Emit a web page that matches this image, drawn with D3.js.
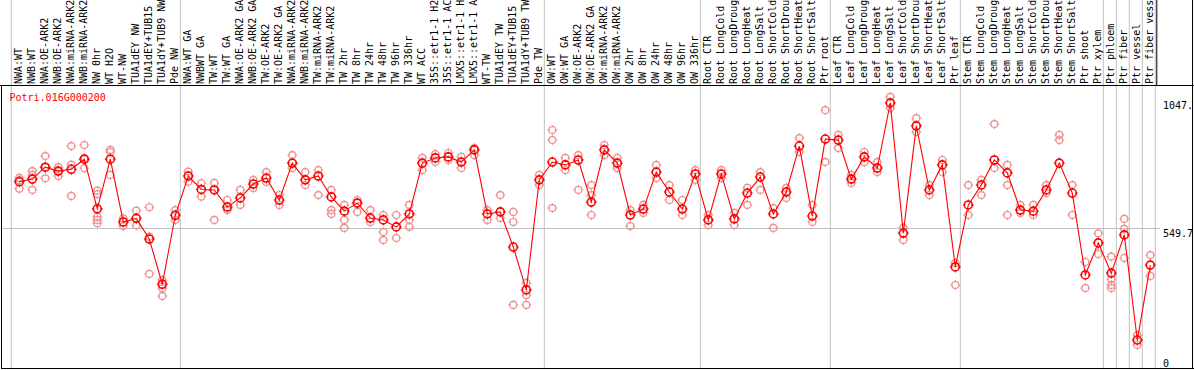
<!DOCTYPE html>
<html>
<head>
<meta charset="utf-8">
<script src="https://cdn.jsdelivr.net/npm/d3@7"></script>
<style>
  body { margin: 0; background: #fff; }
  svg text { font-family: "DejaVu Sans Mono", monospace; font-size: 10px; }
</style>
</head>
<body>
<div id="chart"></div>
<script>
// sample labels, as shown (clipped at the top of the picture)
const categories = [
  "NWA:WT", "NWB:WT", "NWA:OE-ARK2", "NWB:OE-ARK2", "NWA:miRNA-ARK2", "NWB:miRNA-ARK2",
  "NW 0hr", "WT H2O", "WT-NW", "TUA1dEY NW", "TUA1dEY+TUB15", "TUA1dY+TUB9 NW", "Pde NW",
  "NWA:WT GA", "NWBWT GA", "TW:WT", "TW:WT GA", "NWA:OE-ARK2 GA", "NWB:OE-ARK2 GA",
  "TW:OE-ARK2", "TW:OE-ARK2 GA", "NWA:miRNA-ARK2", "NWB:miRNA-ARK2", "TW:miRNA-ARK2",
  "TW:miRNA-ARK2", "TW 2hr", "TW 8hr", "TW 24hr", "TW 48hr", "TW 96hr", "TW 336hr",
  "WT ACC", "35S::etr1-1 H2", "35S::etr1-1 AC", "LMX5::etr1-1 H", "LMX5::etr1-1 A",
  "WT-TW", "TUA1dEY TW", "TUA1dEY+TUB15", "TUA1dY+TUB9 TW", "Pde TW",
  "OW:WT", "OW:WT GA", "OW:OE-ARK2", "OW:OE-ARK2 GA", "OW:miRNA-ARK2", "OW:miRNA-ARK2",
  "OW 2hr", "OW 8hr", "OW 24hr", "OW 48hr", "OW 96hr", "OW 336hr",
  "Root CTR", "Root LongCold", "Root LongDroug", "Root LongHeat", "Root LongSalt",
  "Root ShortCold", "Root ShortDrou", "Root ShortHeat", "Root ShortSalt", "Ptr root",
  "Leaf CTR", "Leaf LongCold", "Leaf LongDroug", "Leaf LongHeat", "Leaf LongSalt",
  "Leaf ShortCold", "Leaf ShortDrou", "Leaf ShortHeat", "Leaf ShortSalt", "Ptr leaf",
  "Stem CTR", "Stem LongCold", "Stem LongDroug", "Stem LongHeat", "Stem LongSalt",
  "Stem ShortCold", "Stem ShortDrou", "Stem ShortHeat", "Stem ShortSalt",
  "Ptr shoot", "Ptr xylem", "Ptr phloem", "Ptr fiber", "Ptr vessel", "Ptr fiber vess"
];

// mean expression per sample
const means = [
  729, 739, 785, 770, 777, 816, 624, 816, 573, 587, 507, 332, 599,
  751, 699, 697, 631, 666, 720, 743, 658, 801, 736, 751, 670, 615, 646, 588, 581, 554, 604,
  801, 821, 825, 805, 852, 604, 612, 476, 310, 736,
  805, 794, 813, 650, 852, 801, 600, 623, 766, 689, 623, 759,
  581, 759, 585, 685, 747, 604, 689, 867, 596, 894,
  890, 739, 825, 782, 1034, 530, 945, 697, 794, 399,
  639, 716, 813, 763, 619, 615, 697, 801, 685, 368, 492,
  375, 523, 116, 406
];

// individual replicates per sample
const replicates = [
  [744, 702, 735], [770, 697, 755], [828, 742, 785], [785, 751, 770], [867, 795, 674],
  [871, 781, 820], [694, 681, 593, 581, 568], [852, 844, 755], [587, 557], [617, 560],
  [630, 372, 516], [348, 316, 286], [619, 581],
  [768, 729], [723, 671], [724, 581, 697], [658, 619], [697, 639], [736, 705], [766, 728],
  [677, 639], [832, 782], [766, 716], [774, 677], [697, 619, 604], [639, 581, 550],
  [658, 612], [619, 573], [600, 534, 503], [600, 511], [639, 581, 554],
  [821, 774], [836, 805], [840, 813], [825, 782], [859, 832], [619, 581], [677, 588],
  [612, 573, 252], [337, 290, 252], [755, 716],
  [929, 890, 627], [821, 774], [832, 697], [716, 677, 600], [871, 832], [821, 782],
  [619, 557], [639, 608], [794, 743], [716, 658], [658, 600], [774, 736],
  [600, 561], [774, 743], [608, 561], [705, 639], [766, 697], [627, 550], [705, 666],
  [898, 844], [639, 573], [1006, 805],
  [910, 859], [755, 724], [844, 805], [805, 766], [1057, 1014], [550, 503], [975, 921],
  [716, 677], [813, 766], [414, 329],
  [716, 600], [736, 677], [952, 782], [794, 716, 600], [639, 608], [639, 600], [716, 685],
  [910, 890], [716, 600], [418, 317], [529, 449],
  [439, 352, 329, 317], [585, 546, 434], [135, 97], [445, 364]
];

// last sample index of each group (gray separators drawn after them)
const groupEnds = [-1, 12, 40, 52, 62, 72, 83, 84, 85, 86, 87];

const yTicks = [0, 549.7, 1047];
const yTickLabels = ["0", "549.7", "1047."];
const geneName = "Potri.016G000200";

const W = 1194, H = 370;
const plotTop = 85.5, plotBottom = 368.5;

const x = d3.scaleLinear().domain([0, categories.length - 1]).range([19.3, 1150.3]);
const y = d3.scaleLinear().domain([0, 1099.4]).range([370, 86]);

const svg = d3.select("#chart").append("svg")
    .attr("width", W)
    .attr("height", H);

// group separators
svg.append("g")
    .selectAll("line")
    .data(groupEnds)
    .enter().append("line")
    .attr("x1", d => x(d) + 5)
    .attr("x2", d => x(d) + 5)
    .attr("y1", 0)
    .attr("y2", plotBottom)
    .attr("stroke", "#c0c0c0")
    .attr("stroke-width", 1);

// mid gridline
svg.append("line")
    .attr("x1", 1).attr("x2", 1160)
    .attr("y1", Math.round(y(549.7)) + 0.5)
    .attr("y2", Math.round(y(549.7)) + 0.5)
    .attr("stroke", "#c0c0c0");

// frame
svg.append("line").attr("x1", 0).attr("x2", W).attr("y1", plotTop).attr("y2", plotTop).attr("stroke", "#000");
svg.append("line").attr("x1", 1.5).attr("x2", 1.5).attr("y1", plotTop).attr("y2", plotBottom).attr("stroke", "#000");
svg.append("line").attr("x1", 1).attr("x2", W).attr("y1", plotBottom).attr("y2", plotBottom).attr("stroke", "#000");
svg.append("line").attr("x1", W - 1.5).attr("x2", W - 1.5).attr("y1", 0).attr("y2", plotBottom).attr("stroke", "#000");
svg.append("line").attr("x1", x(87) + 6.5).attr("x2", x(87) + 6.5).attr("y1", 0).attr("y2", plotTop).attr("stroke", "#000");

// sample labels
svg.append("g")
    .selectAll("text")
    .data(categories)
    .enter().append("text")
    .attr("transform", (d, i) => "translate(" + (x(i) + 3) + "," + 84 + ") rotate(-90)")
    .attr("fill", "#000")
    .text(d => d);

// title
svg.append("text")
    .attr("x", 9.5)
    .attr("y", 100.5)
    .attr("fill", "#ff0000")
    .text(geneName);

// right axis labels
svg.append("g")
    .selectAll("text")
    .data(yTicks)
    .enter().append("text")
    .attr("x", 1163)
    .attr("y", (d, i) => Math.min(y(d) + 9, 367))
    .attr("fill", "#000")
    .text((d, i) => yTickLabels[i]);

function marker(g, cx, cy, r, color, sw) {
    g.append("circle")
        .attr("cx", cx).attr("cy", cy).attr("r", r)
        .attr("fill", "none")
        .attr("stroke", color)
        .attr("stroke-width", sw);
    [[0, -1], [0, 1], [-1, 0], [1, 0]].forEach(function(v) {
        g.append("line")
            .attr("x1", cx + v[0] * (r - 1)).attr("y1", cy + v[1] * (r - 1))
            .attr("x2", cx + v[0] * (r + 1.5)).attr("y2", cy + v[1] * (r + 1.5))
            .attr("stroke", color)
            .attr("stroke-width", 1);
    });
}

// replicates
const repLayer = svg.append("g");
replicates.forEach(function(reps, i) {
    reps.forEach(function(v) {
        marker(repLayer, x(i), y(v), 3.5, "#ee9090", 1.2);
    });
});

// mean line
const valueline = d3.line()
    .x((d, i) => x(i))
    .y(d => y(d));

svg.append("path")
    .datum(means)
    .attr("fill", "none")
    .attr("stroke", "#ff0000")
    .attr("stroke-width", 1.1)
    .attr("d", valueline);

// means
const meanLayer = svg.append("g");
means.forEach(function(v, i) {
    marker(meanLayer, x(i), y(v), 4, "#ff0000", 1.6);
});
</script>
</body>
</html>
